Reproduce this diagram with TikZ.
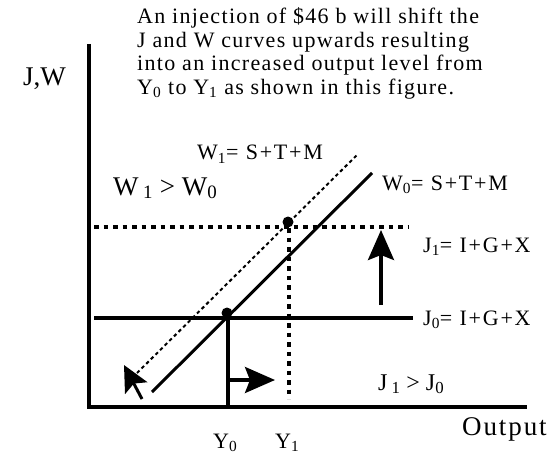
\documentclass[tikz,border=0pt]{standalone}
\usepackage{fontspec}
\setmainfont{Liberation Serif}
\usetikzlibrary{arrows.meta}
\begin{document}
\begin{tikzpicture}[x=1pt,y=-1pt,
  axis/.style={line width=3.5pt},
  curve/.style={line width=3pt},
  dots/.style={line width=4pt, dash pattern=on 4.5pt off 5pt},
  thindots/.style={line width=2pt, dash pattern=on 3.5pt off 3pt},
  bigarrow/.style={line width=3.5pt, -{Stealth[length=30pt,width=26pt,inset=5pt]}},
  para/.style={inner sep=0pt, anchor=base west, font=\fontsize{22}{26}\selectfont\addfontfeature{LetterSpace=6}},
  lbl/.style={inner sep=0pt, anchor=base west, font=\fontsize{22}{24}\selectfont\addfontfeature{LetterSpace=8}},
  biglbl/.style={inner sep=0pt, anchor=base west, font=\fontsize{27}{30}\selectfont},
  dot/.style={circle, fill=black, inner sep=0pt, minimum size=11pt},
]
\useasboundingbox (0,0) rectangle (548,457);
% paragraph
\node[para] (t1) at (137,24) {An injection of \$46 b will shift the};
\node[para] (t2) at (137,47.5) {J and W curves upwards resulting};
\node[para] (t3) at (137,71) {into an increased output level from};
\node[para] (t4) at (137,94.5) {Y\textsubscript{0} to Y\textsubscript{1} as shown in this figure.};
% axes
\coordinate (yt) at (89,44);
\coordinate (yb) at (89,408.5);
\coordinate (xl) at (87.5,407);
\coordinate (xr) at (527,407);
\draw[axis] (yt) -- (yb);
\draw[axis] (xl) -- (xr);
\node[biglbl] (jw) at (23,86) {J,W};
\node[biglbl, font=\fontsize{27}{30}\selectfont\addfontfeature{LetterSpace=7}] (out) at (462,435) {Output};
% J lines
\coordinate (j0l) at (94,318);
\coordinate (j0r) at (413,318);
\coordinate (j1l) at (94,227);
\coordinate (j1r) at (408,227);
\draw[axis] (j0l) -- (j0r);
\draw[dots] (j1l) -- (j1r);
% W lines
\coordinate (w0a) at (152,392);
\coordinate (w0b) at (372,173);
\coordinate (w1a) at (137,373);
\coordinate (w1b) at (357,155);
\draw[curve] (w0a) -- (w0b);
\draw[thindots] (w1a) -- (w1b);
% equilibria
\node[dot] (e0) at (227,313) {};
\node[dot] (e1) at (288,222) {};
\coordinate (y0b) at (228,407);
\coordinate (y0t) at (228,317);
\coordinate (y1t) at (289,228);
\coordinate (y1b) at (289,399);
\draw[axis] (y0t) -- (y0b);
\draw[dots] (y1t) -- (y1b);
% arrows
\coordinate (ra) at (229,380);
\coordinate (rb) at (275,380);
\draw[bigarrow] (ra) -- (rb);
\coordinate (ua) at (381,305);
\coordinate (ub) at (381,230);
\draw[bigarrow] (ua) -- (ub);
\coordinate (ca) at (142,399);
\coordinate (cb) at (124,365);
\draw[line width=3pt, -{Stealth[length=26pt,width=25pt,inset=5pt]}] (ca) -- (cb);
% labels
\node[lbl] (lw1) at (197,160) {W\textsubscript{1}= S+T+M};
\node[biglbl] (lw10) at (113,195) {W\,\textsubscript{1} \textgreater{} W\textsubscript{0}};
\node[lbl] (lw0) at (382,190) {W\textsubscript{0}= S+T+M};
\node[lbl] (lj1) at (423,252) {J\textsubscript{1}= I+G+X};
\node[lbl] (lj0) at (423,325) {J\textsubscript{0}= I+G+X};
\node[biglbl, font=\fontsize{24}{28}\selectfont] (lj10) at (378,390) {J\,\textsubscript{1} \textgreater{} J\textsubscript{0}};
\node[lbl] (ly0) at (213,448) {Y\textsubscript{0}};
\node[lbl] (ly1) at (275,448) {Y\textsubscript{1}};
\end{tikzpicture}
\end{document}
